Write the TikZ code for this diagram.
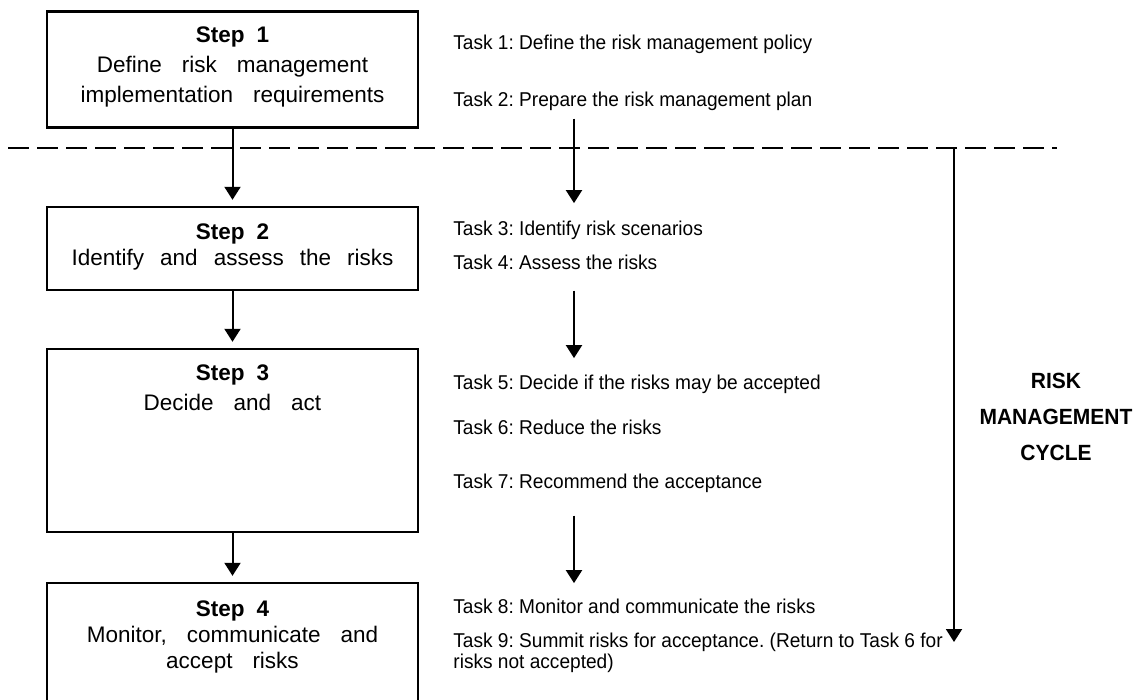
\documentclass[tikz,border=0pt]{standalone}
\usepackage{fontspec}
\setmainfont{Liberation Sans}[FakeStretch=0.955]
\newfontfamily\stepfont{Liberation Sans}
\newcommand{\gap}{\hspace{10pt}}
\newcommand{\sgap}{\hspace{8pt}}
\usetikzlibrary{arrows.meta,positioning}

\begin{document}
\frenchspacing
\begin{tikzpicture}[x=0.5pt,y=-0.5pt,>={Triangle[width=8pt,length=6.5pt]}]

	\tikzstyle{box}     = [rectangle, draw=black, line width=1.2pt, minimum width=185.5pt, inner sep=0pt]
	\tikzstyle{boxtext} = [anchor=north, align=center, inner sep=0pt, font=\stepfont\fontsize{11.25}{13}\selectfont]
	\tikzstyle{task}    = [anchor=base west, inner sep=0pt, font=\fontsize{10}{9}\selectfont]
	\tikzstyle{flow}    = [->, line width=1pt]
	\tikzstyle{cut}     = [dash pattern=on 10.5pt off 4pt, line width=0.7pt]

	\useasboundingbox (0,0) rectangle (1133,700);

	% the four steps
	\node [box, minimum height=58pt] (s1) at (232.5,69.5) {};
	\node [boxtext] (s1t) at ([yshift=-8pt]s1.north) {\textbf{Step\hspace{6pt}1}\\[2pt]Define\gap risk\gap management\\[2pt]implementation\gap requirements};

	\node [box, minimum height=41.5pt] (s2) at (232.5,248.5) {};
	\node [boxtext] (s2t) at ([yshift=-9pt]s2.north) {\textbf{Step\hspace{6pt}2}\\Identify\sgap and\sgap assess\sgap the\sgap risks};

	\node [box, minimum height=91.5pt] (s3) at (232.5,440.5) {};
	\node [boxtext] (s3t) at ([yshift=-8.5pt]s3.north) {\textbf{Step\hspace{6pt}3}\\[2pt]Decide\gap and\gap act};

	\node [box, minimum height=64.5pt] (s4) at (232.5,647.5) {};
	\node [boxtext] (s4t) at ([yshift=-9.5pt]s4.north) {\textbf{Step\hspace{6pt}4}\\Monitor,\gap communicate\gap and\\accept\gap risks};

	\draw [flow, shorten >=3pt] (s1) -- (s2);
	\draw [flow, shorten >=3pt] (s2) -- (s3);
	\draw [flow, shorten >=3pt] (s3) -- (s4);

	% tasks
	\node [task] (t1) at (453,50)  {Task 1: Define the risk management policy};
	\node [task] (t2) at (453,107) {Task 2: Prepare the risk management plan};
	\node [task] (t3) at (453,235) {Task 3: Identify risk scenarios};
	\node [task] (t4) at (453,269) {Task 4: Assess the risks};
	\node [task] (t5) at (453,389) {Task 5: Decide if the risks may be accepted};
	\node [task] (t6) at (453,434) {Task 6: Reduce the risks};
	\node [task] (t7) at (453,488) {Task 7: Recommend the acceptance};
	\node [task] (t8) at (453,613) {Task 8: Monitor and communicate the risks};
	\node [task, anchor=north west, align=left] (t9) at (453,633) {Task 9: Summit risks for acceptance. (Return to Task 6 for\\risks not accepted)};

	\coordinate (ax) at (574,0);
	\draw [flow, shorten <=3.5pt, shorten >=8.5pt] (t2.south -| ax) -- (t3.north -| ax);
	\draw [flow, shorten <=10.5pt, shorten >=8pt] (t4.south -| ax) -- (t5.north -| ax);
	\draw [flow, shorten <=11.5pt, shorten >=7.5pt] (t7.south -| ax) -- (t8.north -| ax);

	% cycle
	\coordinate (cl) at (8,148);
	\coordinate (cr) at (1057,148);
	\draw [cut] (cl) -- (cr);

	\coordinate (cyc) at (954,148);
	\coordinate (cycend) at (954,642);
	\draw [flow] (cyc) -- (cycend);

	\node [font=\bfseries\fontsize{11}{18}\selectfont, align=center] (cycle) at (1056,417) {RISK\\MANAGEMENT\\CYCLE};

\end{tikzpicture}
\end{document}
